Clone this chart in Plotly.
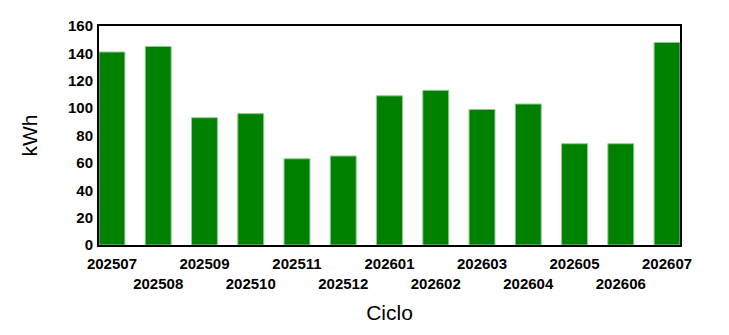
import plotly.graph_objects as go

ciclos = ["202507", "202508", "202509", "202510", "202511", "202512", "202601",
          "202602", "202603", "202604", "202605", "202606", "202607"]
kwh = [141, 145, 93, 96, 63, 65, 109, 113, 99, 103, 74, 74, 148]
y_ticks = [0, 20, 40, 60, 80, 100, 120, 140, 160]

tick_text = [c if i % 2 == 0 else "<br>" + c for i, c in enumerate(ciclos)]

fig = go.Figure(go.Bar(
    x=list(range(len(ciclos))), y=kwh,
    marker=dict(color="#008000", line=dict(color="#8fc98f", width=1)),
))

font = "Liberation Sans, Arial, sans-serif"
fig.update_layout(
    width=729, height=335,
    margin=dict(l=99, r=49, t=26, b=90),
    paper_bgcolor="white", plot_bgcolor="white",
    bargap=0.44, showlegend=False,
    font=dict(family=font, color="black"),
)
fig.update_xaxes(
    range=[-0.28, 12.28], tickmode="array",
    tickvals=list(range(len(ciclos))), ticktext=tick_text,
    tickfont=dict(size=15, family="Liberation Sans", weight="bold"),
    tickangle=0, automargin=False,
    showgrid=False, showline=True, linecolor="black", linewidth=2, mirror=True,
    ticks="", ticklabelstandoff=4,
    title=dict(text="Ciclo", font=dict(size=21), standoff=15),
)
fig.update_yaxes(
    range=[0, 160], tickmode="array", tickvals=y_ticks,
    tickfont=dict(size=15, family="Liberation Sans", weight="bold"),
    automargin=False,
    showgrid=False, showline=True, linecolor="black", linewidth=2, mirror=True,
    ticks="", ticklabelstandoff=1, zeroline=False,
    title=dict(text="kWh", font=dict(size=21), standoff=25),
)
fig.write_html("out.html")
